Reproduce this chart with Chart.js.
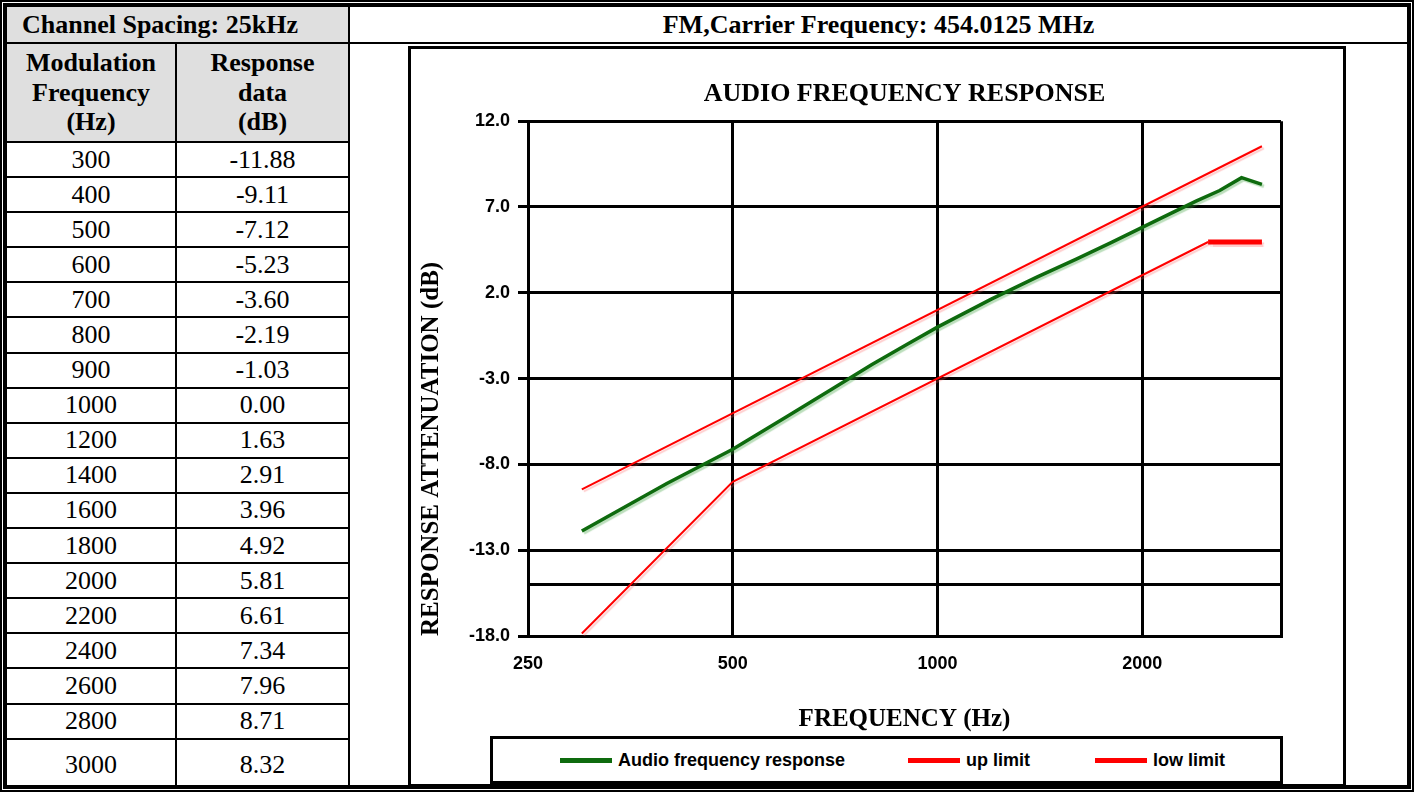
<!DOCTYPE html>
<html>
<head>
<meta charset="utf-8">
<script src="https://cdn.jsdelivr.net/npm/chart.js@4.4.1/dist/chart.umd.min.js"></script>
<style>
  html, body { margin: 0; padding: 0; background: #fff; }
  #sheet {
    position: absolute; left: 0; top: 0;
    width: 1414px; height: 792px; box-sizing: border-box;
    border: 5px double #000;
    background: #000; background-clip: padding-box;
    padding: 2px;
    display: grid;
    grid-template-columns: 168px 171px 1fr;
    grid-template-rows: 35px 97px repeat(17, 33.1px) 1fr;
    gap: 2px;
    font-family: "Liberation Serif", "Times New Roman", serif;
    font-size: 26px;
    color: #000;
  }
  .c { background: #fff; display: flex; align-items: center; justify-content: center; }
  .g { background: #dfdfdf; font-weight: bold; }
  .hd1 { grid-column: 1 / 3; justify-content: flex-start; padding-left: 15px; }
  .hd2 { grid-column: 3; font-weight: bold; }
  .sub { text-align: center; line-height: 29.5px; }
  .last { padding-top: 6px; }
  .chartcell { grid-column: 3; grid-row: 2 / -1; background: #fff; position: relative; }
  #box {
    position: absolute; left: 58px; top: 2px; width: 938px; height: 741px;
    box-sizing: border-box; border: 3px solid #000; background: #fff;
  }
  #box canvas { position: absolute; left: 0; top: 0; }
  #legend {
    position: absolute; left: 79px; top: 687px; width: 793px; height: 48px;
    box-sizing: border-box; border: 3px solid #000; background: #fff;
    font: bold 18px "Liberation Sans", Arial, sans-serif;
  }
  #legend .sw { position: absolute; top: 19px; width: 52px; height: 5px; }
  #legend .tx { position: absolute; top: 10px; line-height: 22px; white-space: nowrap; }
</style>
</head>
<body>
<div id="sheet">
  <div class="c g hd1">Channel Spacing: 25kHz</div>
  <div class="c hd2">FM,Carrier Frequency: 454.0125 MHz</div>
  <div class="c g sub">Modulation<br>Frequency<br>(Hz)</div>
  <div class="c g sub">Response<br>data<br>(dB)</div>
  <div class="chartcell">
    <div id="box">
      <canvas id="chart" width="932" height="735" style="width:932px;height:735px"></canvas>
      <div id="legend"></div>
    </div>
  </div>
</div>
<script>
// measured response (table + green curve)
const freqs = [300, 400, 500, 600, 700, 800, 900, 1000, 1200, 1400, 1600, 1800, 2000, 2200, 2400, 2600, 2800, 3000];
const response = [-11.88, -9.11, -7.12, -5.23, -3.60, -2.19, -1.03, 0.00, 1.63, 2.91, 3.96, 4.92, 5.81, 6.61, 7.34, 7.96, 8.71, 8.32];

// limit lines
const upFreqs = [300, 3000];
const upLimit = [-9.46, 10.54];
const lowFreqs = [300, 500, 2500, 3000];
const lowLimit = [-17.85, -9.02, 4.96, 4.96];

// axes
const xTickLabels = [250, 500, 1000, 2000];
const xMax = 3200;
const yTickLabels = [-18, -13, -8, -3, 2, 7, 12];
const yExtraLine = -15;

// table rows
const sheet = document.getElementById('sheet');
freqs.forEach(function (f, i) {
  const last = i === freqs.length - 1 ? ' last' : '';
  const a = document.createElement('div');
  a.className = 'c' + last;
  a.textContent = f;
  const b = document.createElement('div');
  b.className = 'c' + last;
  b.textContent = response[i].toFixed(2);
  sheet.appendChild(a);
  sheet.appendChild(b);
});

function toPoints(xs, ys) {
  return xs.map(function (x, i) { return { x: x, y: ys[i] }; });
}

// soft drop shadow under each line, like the original Excel chart
const lineShadow = {
  id: 'lineShadow',
  beforeDatasetDraw(chart, args) {
    const ds = chart.data.datasets[args.index];
    const ctx = chart.ctx;
    ctx.save();
    ctx.shadowColor = ds.shadowColor || 'transparent';
    ctx.shadowOffsetX = 2;
    ctx.shadowOffsetY = 2;
    ctx.shadowBlur = 1;
  },
  afterDatasetDraw(chart) {
    chart.ctx.restore();
  }
};

Chart.defaults.font.family = '"Liberation Sans", Arial, sans-serif';
Chart.defaults.color = '#000';

const chart = new Chart(document.getElementById('chart'), {
  type: 'line',
  data: {
    datasets: [{
      label: 'Audio frequency response',
      data: toPoints(freqs, response),
      borderColor: '#0e6b0e',
      backgroundColor: '#0e6b0e',
      borderWidth: 3.5,
      shadowColor: 'rgba(60,160,60,0.35)'
    }, {
      label: 'up limit',
      data: toPoints(upFreqs, upLimit),
      borderColor: '#ff0000',
      backgroundColor: '#ff0000',
      borderWidth: 2,
      shadowColor: 'rgba(255,90,90,0.3)'
    }, {
      label: 'low limit',
      data: toPoints(lowFreqs, lowLimit),
      borderColor: '#ff0000',
      backgroundColor: '#ff0000',
      borderWidth: 2,
      shadowColor: 'rgba(255,90,90,0.3)',
      segment: {
        borderWidth: function (c) { return c.p0.parsed.x >= 2500 ? 5 : 2; }
      }
    }]
  },
  options: {
    responsive: false,
    animation: false,
    elements: { point: { radius: 0 }, line: { tension: 0 } },
    layout: { padding: { left: 0, right: 62, top: 0, bottom: 48 } },
    plugins: {
      legend: { display: false },
      tooltip: { enabled: false },
      title: {
        display: true,
        text: 'AUDIO FREQUENCY RESPONSE',
        fullSize: false,
        color: '#000',
        font: { family: '"Liberation Serif", serif', size: 26, weight: 'bold' },
        padding: { top: 30, bottom: 11 }
      }
    },
    scales: {
      x: {
        type: 'logarithmic',
        min: 250,
        max: xMax,
        afterBuildTicks: function (s) {
          s.ticks = xTickLabels.concat([xMax]).map(function (v) { return { value: v }; });
        },
        afterFit: function (s) { s.height = 100; },
        ticks: {
          autoSkip: false,
          maxRotation: 0,
          padding: 17,
          font: { size: 18, weight: 'bold' },
          callback: function (v) { return xTickLabels.includes(v) ? String(v) : ''; }
        },
        grid: { color: '#000', lineWidth: 3, drawTicks: false },
        border: { color: '#000', width: 3 },
        title: {
          display: true,
          text: 'FREQUENCY (Hz)',
          font: { family: '"Liberation Serif", serif', size: 25, weight: 'bold' },
          padding: { top: 4, bottom: 1 }
        }
      },
      y: {
        min: -18,
        max: 12,
        afterBuildTicks: function (s) {
          s.ticks = yTickLabels.concat([yExtraLine]).sort(function (a, b) { return a - b; })
            .map(function (v) { return { value: v }; });
        },
        afterFit: function (s) { s.width = 117; },
        ticks: {
          padding: 8,
          font: { size: 18, weight: 'bold' },
          callback: function (v) { return yTickLabels.includes(v) ? v.toFixed(1) : ''; }
        },
        grid: {
          color: '#000',
          lineWidth: 3,
          tickLength: 10,
          tickColor: function (c) { return c.tick && c.tick.value === yExtraLine ? 'rgba(0,0,0,0)' : '#000'; }
        },
        border: { color: '#000', width: 3 },
        title: {
          display: true,
          text: 'RESPONSE ATTENUATION (dB)',
          align: 'start',
          font: { family: '"Liberation Serif", serif', size: 25, weight: 'bold' },
          padding: { top: 6, bottom: 0 }
        }
      }
    }
  },
  plugins: [lineShadow]
});

// legend box under the chart
const legendLeft = [67, 415, 602];
const legend = document.getElementById('legend');
chart.data.datasets.forEach(function (ds, i) {
  const sw = document.createElement('span');
  sw.className = 'sw';
  sw.style.left = legendLeft[i] + 'px';
  sw.style.background = ds.borderColor;
  const tx = document.createElement('span');
  tx.className = 'tx';
  tx.style.left = (legendLeft[i] + 58) + 'px';
  tx.textContent = ds.label;
  legend.appendChild(sw);
  legend.appendChild(tx);
});
</script>
</body>
</html>
